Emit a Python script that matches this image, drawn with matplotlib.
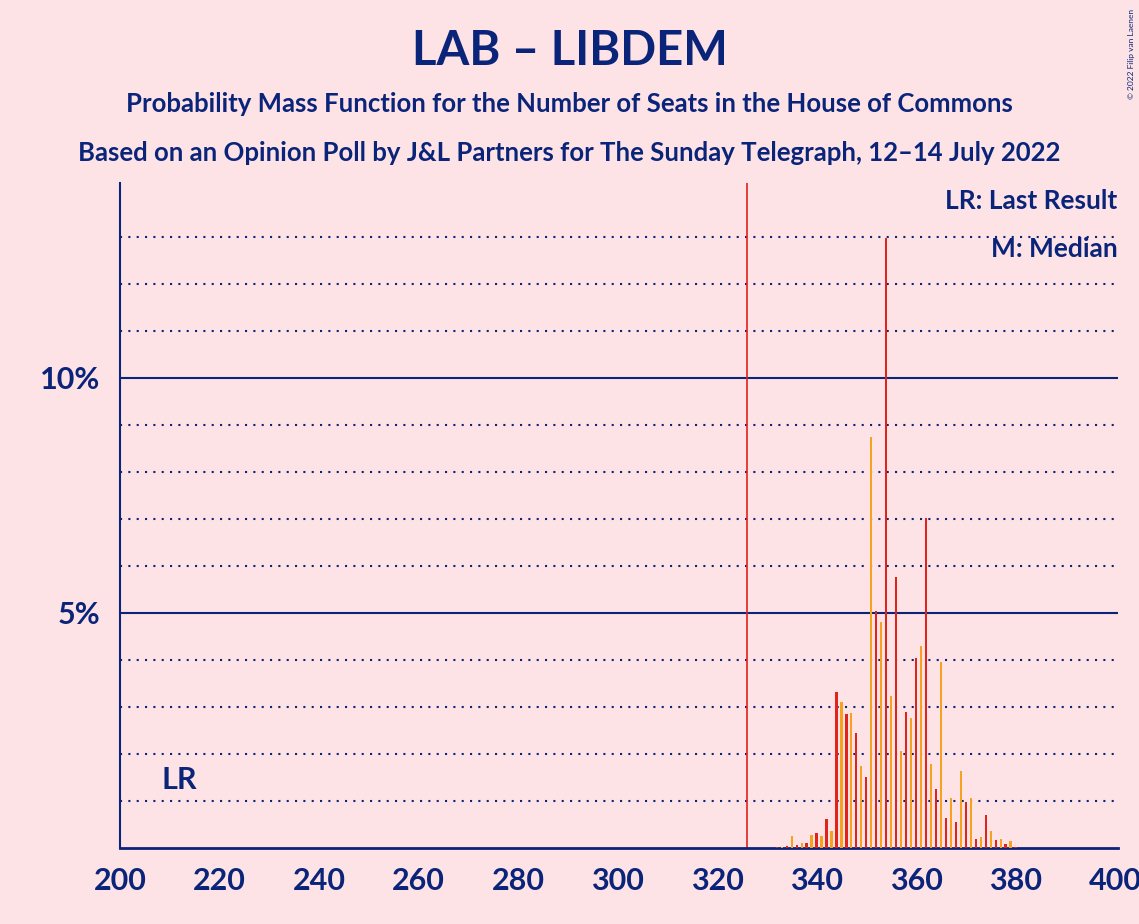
import matplotlib.pyplot as plt

seats = list(range(332, 381))
probs = [0.02, 0.03, 0.05, 0.25, 0.07, 0.1, 0.1, 0.28, 0.32,
         0.26, 0.61, 0.37, 3.31, 3.10, 2.85, 2.88, 2.44, 1.75, 1.51,
         8.75, 5.04, 4.81, 12.97, 3.24, 5.76, 2.06, 2.90, 2.77, 4.04,
         4.29, 7.03, 1.78, 1.25, 3.95, 0.63, 1.07, 0.55, 1.63, 0.98,
         1.07, 0.20, 0.23, 0.70, 0.37, 0.17, 0.19, 0.09, 0.14, 0.02]
majority = 326
last_result = 212

bg = '#fde3e6'
navy = '#0a2479'
red = '#e0241c'
orange = '#f5a21e'

plt.rcParams['font.family'] = ['Lato', 'DejaVu Sans']
fig = plt.figure(figsize=(11.39, 9.24), dpi=100, facecolor=bg)
ax = fig.add_axes([0.1054, 0.0823, 0.8762, 0.7197], facecolor=bg)

for i in range(1, 14):
    if i % 5 == 0:
        ax.axhline(i, color=navy, lw=1.5, zorder=1)
    else:
        ax.axhline(i, color=navy, lw=1.5, ls=(0, (1, 3)), zorder=1)

colors = [red if s % 2 == 0 else orange for s in seats]
ax.bar(seats, probs, width=0.45, color=colors, zorder=3)
ax.axvline(majority, color=red, lw=1.2, zorder=2)
ax.text(last_result, 1.15, 'LR', color=navy, fontsize=22, fontweight='bold', ha='center', va='bottom')

ax.set_xlim(200.6, 400.6)
ax.set_ylim(0, 14.15)
ax.set_xticks(range(200, 401, 20))
ax.set_yticks([5, 10])
ax.set_yticklabels(['5%', '10%'])
ax.tick_params(colors=navy, labelsize=22, length=0, pad=14)
for t in ax.get_xticklabels() + ax.get_yticklabels():
    t.set_fontweight('bold')
for sp in ['top', 'right']:
    ax.spines[sp].set_visible(False)
ax.spines['left'].set_color(navy)
ax.spines['bottom'].set_color(navy)
ax.spines['left'].set_linewidth(1.5)
ax.spines['bottom'].set_linewidth(2)

fig.text(0.5, 0.945, 'LAB – LIBDEM', color=navy, fontsize=34, fontweight='bold', ha='center', va='center')
fig.text(0.5, 0.887, 'Probability Mass Function for the Number of Seats in the House of Commons',
         color=navy, fontsize=18.5, fontweight='bold', ha='center', va='center')
fig.text(0.5, 0.834, 'Based on an Opinion Poll by J&L Partners for The Sunday Telegraph, 12–14 July 2022',
         color=navy, fontsize=18.5, fontweight='bold', ha='center', va='center')
fig.text(0.981, 0.783, 'LR: Last Result', color=navy, fontsize=19, fontweight='bold', ha='right', va='center')
fig.text(0.981, 0.731, 'M: Median', color=navy, fontsize=19, fontweight='bold', ha='right', va='center')
fig.text(0.993, 0.99, '© 2022 Filip van Laenen', color=navy, fontsize=6, rotation=90, ha='center', va='top')

fig.savefig('out.png', dpi=100, facecolor=bg)
